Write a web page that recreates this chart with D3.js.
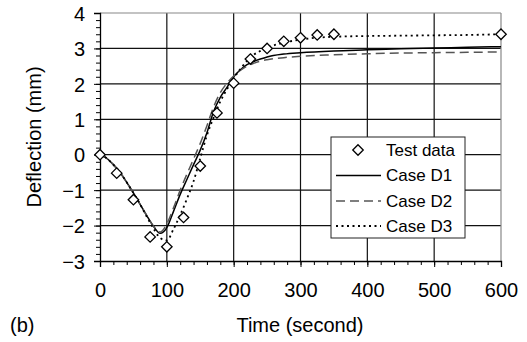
<!DOCTYPE html>
<html><head><meta charset="utf-8">
<script src="https://cdn.jsdelivr.net/npm/d3@7"></script>
<style>body{margin:0;background:#fff}svg{display:block}text{font-family:"Liberation Sans",Arial,sans-serif;fill:#000}</style>
</head><body><svg id="c" width="527" height="342"></svg>
<script>
const testT = [0,25,50,75,100,125,150,175,200,225,250,275,300,325,350,600];
const testV = [0,-0.52,-1.27,-2.32,-2.6,-1.77,-0.32,1.18,2.02,2.7,3.0,3.2,3.3,3.38,3.4,3.4];
const curveT = [0,10,20,30,40,50,60,70,80,90,100,110,120,130,140,150,160,170,180,190,200,210,220,230,240,250,275,300,350,400,450,500,550,600];
const caseD1 = [0,-0.1,-0.28,-0.5,-0.78,-1.08,-1.4,-1.72,-2.02,-2.22,-2.06,-1.6,-1.12,-0.7,-0.28,0.13,0.62,1.22,1.62,1.9,2.2,2.4,2.54,2.63,2.7,2.76,2.84,2.88,2.93,2.96,2.99,3.01,3.03,3.05];
const caseD2 = [0,-0.1,-0.28,-0.5,-0.78,-1.08,-1.4,-1.72,-2.02,-2.18,-1.95,-1.5,-1.0,-0.55,-0.12,0.32,0.82,1.35,1.75,2.02,2.22,2.38,2.5,2.58,2.64,2.68,2.74,2.78,2.82,2.85,2.87,2.88,2.89,2.9];
const caseD3 = [0,-0.1,-0.28,-0.5,-0.78,-1.08,-1.4,-1.75,-2.08,-2.35,-2.42,-2.1,-1.7,-1.25,-0.75,-0.1,0.55,1.05,1.5,1.85,2.15,2.42,2.65,2.82,2.93,3.02,3.16,3.25,3.33,3.35,3.36,3.37,3.38,3.4];
const xTicks = [0,100,200,300,400,500,600];
const yTicks = [-3,-2,-1,0,1,2,3,4];
const legendLabels = ["Test data","Case D1","Case D2","Case D3"];

const svg = d3.select("#c");
const x = d3.scaleLinear().domain([0,600]).range([100,501]);
const y = d3.scaleLinear().domain([-3,4]).range([261,13]);

const g = svg.append("g");
g.selectAll(".vg").data(xTicks.slice(1,-1)).enter().append("line")
  .attr("x1",d=>x(d)).attr("x2",d=>x(d)).attr("y1",y(4)).attr("y2",y(-3))
  .attr("stroke","#111").attr("stroke-width",1.2);
g.selectAll(".hg").data(yTicks.slice(1,-1)).enter().append("line")
  .attr("y1",d=>y(d)).attr("y2",d=>y(d)).attr("x1",x(0)).attr("x2",x(600))
  .attr("stroke","#111").attr("stroke-width",1.2);
g.append("line").attr("x1",x(0)).attr("x2",x(600)).attr("y1",y(4)).attr("y2",y(4)).attr("stroke","#888").attr("stroke-width",1.2);
g.append("line").attr("x1",x(600)).attr("x2",x(600)).attr("y1",y(4)).attr("y2",y(-3)).attr("stroke","#888").attr("stroke-width",1.2);

const xAxis = svg.append("g").attr("transform",`translate(0,${y(-3)})`)
  .call(d3.axisBottom(x).tickValues(xTicks).tickSize(6).tickPadding(16).tickFormat(d3.format("d")));
const xMinor = svg.append("g").attr("transform",`translate(0,${y(-3)})`)
  .call(d3.axisBottom(x).tickValues(d3.range(0,601,20)).tickSize(4).tickFormat(""));
const yAxis = svg.append("g").attr("transform",`translate(${x(0)},0)`)
  .call(d3.axisLeft(y).tickValues(yTicks).tickSize(6).tickPadding(9).tickFormat(d3.format("d")));
const yMinor = svg.append("g").attr("transform",`translate(${x(0)},0)`)
  .call(d3.axisLeft(y).tickValues(d3.range(-3,4.01,0.2)).tickSize(4).tickFormat(""));
[xAxis,xMinor,yAxis,yMinor].forEach(a=>{
  a.selectAll(".domain").attr("stroke","#000").attr("stroke-width",1.3);
  a.selectAll(".tick line").attr("stroke","#000").attr("stroke-width",1);
  a.selectAll("text").style("font-size","20px").attr("fill","#000");
});
xMinor.select(".domain").remove(); yMinor.select(".domain").remove();
yAxis.selectAll("text").attr("dy","0.36em");

const line = d3.line().x(d=>x(d[0])).y(d=>y(d[1])).curve(d3.curveMonotoneX);
const series = [
  {v:caseD1, stroke:"#000", dash:null, w:1.5},
  {v:caseD2, stroke:"#555", dash:"9,5", w:1.5},
  {v:caseD3, stroke:"#000", dash:"2,3.5", w:1.8}
];
series.forEach(s=>{
  svg.append("path").datum(curveT.map((t,i)=>[t,s.v[i]])).attr("d",line)
    .attr("fill","none").attr("stroke",s.stroke).attr("stroke-width",s.w)
    .attr("stroke-dasharray",s.dash);
});

const dia = d3.symbol().type(d3.symbolDiamond2).size(70);
svg.selectAll(".pt").data(testT.map((t,i)=>[t,testV[i]])).enter().append("path")
  .attr("d",dia).attr("transform",d=>`translate(${x(d[0])},${y(d[1])})`)
  .attr("fill","#fff").attr("stroke","#000").attr("stroke-width",1.3);

const lg = svg.append("g");
lg.append("rect").attr("x",331).attr("y",137).attr("width",134).attr("height",101)
  .attr("fill","#fff").attr("stroke","#222").attr("stroke-width",1);
const rowY = [150,175.5,201,226];
lg.append("path").attr("d",dia).attr("transform",`translate(358,${rowY[0]})`)
  .attr("fill","#fff").attr("stroke","#000").attr("stroke-width",1.3);
series.forEach((s,i)=>{
  lg.append("line").attr("x1",336).attr("x2",381).attr("y1",rowY[i+1]).attr("y2",rowY[i+1])
    .attr("stroke",s.stroke).attr("stroke-width",s.w).attr("stroke-dasharray",s.dash);
});
lg.selectAll(".lt").data(legendLabels).enter().append("text")
  .attr("x",386).attr("y",(d,i)=>rowY[i]).attr("dy","0.35em")
  .style("font-size","17px").text(d=>d);

svg.append("text").attr("x",300).attr("y",332).attr("text-anchor","middle").style("font-size","20px").text("Time (second)");
svg.append("text").attr("transform","translate(41,137) rotate(-90)").attr("text-anchor","middle").style("font-size","20px").text("Deflection (mm)");
svg.append("text").attr("x",10).attr("y",332).style("font-size","20px").text("(b)");
</script></body></html>
